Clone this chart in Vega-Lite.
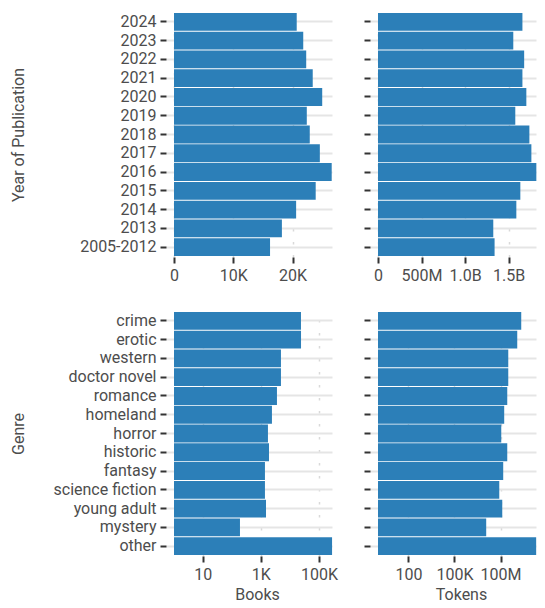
{
  "$schema": "https://vega.github.io/schema/vega-lite/v6.json",
  "padding": {"left": 10, "top": 12, "right": 0, "bottom": 0},
  "background": "white",
  "datasets": {
    "years": [
      {"label": "2024", "books": 20700, "tokens": 1660000000},
      {"label": "2023", "books": 21800, "tokens": 1555000000},
      {"label": "2022", "books": 22300, "tokens": 1680000000},
      {"label": "2021", "books": 23400, "tokens": 1660000000},
      {"label": "2020", "books": 25000, "tokens": 1705000000},
      {"label": "2019", "books": 22400, "tokens": 1578000000},
      {"label": "2018", "books": 22900, "tokens": 1740000000},
      {"label": "2017", "books": 24600, "tokens": 1763000000},
      {"label": "2016", "books": 26600, "tokens": 1820000000},
      {"label": "2015", "books": 23900, "tokens": 1636000000},
      {"label": "2014", "books": 20600, "tokens": 1590000000},
      {"label": "2013", "books": 18200, "tokens": 1325000000},
      {"label": "2005-2012", "books": 16200, "tokens": 1340000000}
    ],
    "genres": [
      {"label": "crime", "books": 23900, "tokens": 2240000000},
      {"label": "erotic", "books": 24000, "tokens": 1230000000},
      {"label": "western", "books": 4900, "tokens": 320000000},
      {"label": "doctor novel", "books": 4900, "tokens": 320000000},
      {"label": "romance", "books": 3570, "tokens": 275000000},
      {"label": "homeland", "books": 2400, "tokens": 174000000},
      {"label": "horror", "books": 1750, "tokens": 112000000},
      {"label": "historic", "books": 1900, "tokens": 275000000},
      {"label": "fantasy", "books": 1380, "tokens": 150000000},
      {"label": "science fiction", "books": 1380, "tokens": 83000000},
      {"label": "young adult", "books": 1500, "tokens": 130000000},
      {"label": "mystery", "books": 191, "tokens": 11700000},
      {"label": "other", "books": 280000, "tokens": 21000000000}
    ]
  },
  "columns": 2,
  "spacing": {"row": 28, "column": 23},
  "concat": [
    {
      "width": 166, "height": 243,
      "data": {"name": "years"},
      "mark": {"type": "bar", "color": "#2c7fb8"},
      "encoding": {
        "y": {"field": "label", "type": "nominal", "sort": null,
              "scale": {"paddingInner": 0.05, "paddingOuter": 0},
              "axis": {"title": "Year of Publication", "titleX": -142.5, "titleBaseline": "alphabetic"}},
        "x": {"field": "books", "type": "quantitative",
              "scale": {"domain": [0, 28000], "nice": false},
              "axis": {"title": null, "values": [0, 10000, 20000], "labelExpr": "replace(format(datum.value, '~s'), 'k', 'K')"}}
      }
    },
    {
      "width": 166, "height": 243,
      "data": {"name": "years"},
      "mark": {"type": "bar", "color": "#2c7fb8"},
      "encoding": {
        "y": {"field": "label", "type": "nominal", "sort": null,
              "scale": {"paddingInner": 0.05, "paddingOuter": 0},
              "axis": {"title": null, "labels": false}},
        "x": {"field": "tokens", "type": "quantitative",
              "scale": {"domain": [0, 1908000000], "nice": false},
              "axis": {"title": null, "values": [0, 500000000, 1000000000, 1500000000],
                       "labelExpr": "datum.value == 0 ? '0' : (datum.value < 1e9 ? format(datum.value / 1e6, 'd') + 'M' : format(datum.value / 1e9, '.1f') + 'B')"}}
      }
    },
    {
      "width": 166, "height": 243,
      "data": {"name": "genres"},
      "mark": {"type": "bar", "color": "#2c7fb8"},
      "encoding": {
        "y": {"field": "label", "type": "nominal", "sort": null,
              "scale": {"paddingInner": 0.05, "paddingOuter": 0},
              "axis": {"title": "Genre", "titleX": -142.5, "titleBaseline": "alphabetic"}},
        "x": {"field": "books", "type": "quantitative",
              "scale": {"type": "log", "domain": [1.03, 525000], "nice": false},
              "axis": {"title": "Books", "values": [10, 1000, 100000], "labelExpr": "replace(format(datum.value, '~s'), 'k', 'K')"}},
        "x2": {"datum": 1.03}
      }
    },
    {
      "width": 166, "height": 243,
      "data": {"name": "genres"},
      "mark": {"type": "bar", "color": "#2c7fb8"},
      "encoding": {
        "y": {"field": "label", "type": "nominal", "sort": null,
              "scale": {"paddingInner": 0.05, "paddingOuter": 0},
              "axis": {"title": null, "labels": false}},
        "x": {"field": "tokens", "type": "quantitative",
              "scale": {"type": "log", "domain": [1.05, 68000000000], "nice": false},
              "axis": {"title": "Tokens", "values": [100, 100000, 100000000], "labelExpr": "replace(format(datum.value, '~s'), 'k', 'K')"}},
        "x2": {"datum": 1.05}
      }
    }
  ],
  "config": {
    "view": {"stroke": null},
    "font": "Roboto",
    "axis": {
      "domain": false,
      "tickColor": "#333333",
      "tickWidth": 2,
      "tickSize": 6,
      "labelColor": "#4d4d4d",
      "titleColor": "#4d4d4d",
      "labelFont": "Roboto",
      "titleFont": "Roboto",
      "labelFontSize": 16,
      "titleFontSize": 16,
      "titleFontWeight": "normal"
    },
    "axisY": {
      "offset": 8,
      "labelPadding": 4,
      "grid": true,
      "gridColor": "#e5e5e5",
      "gridWidth": 2
    },
    "axisX": {
      "offset": 1,
      "labelPadding": 4,
      "titlePadding": 4,
      "grid": true,
      "gridColor": "#d9d9d9",
      "gridWidth": 1.5,
      "gridDash": [2.5, 10.5],
      "labelFlush": false
    }
  }
}
